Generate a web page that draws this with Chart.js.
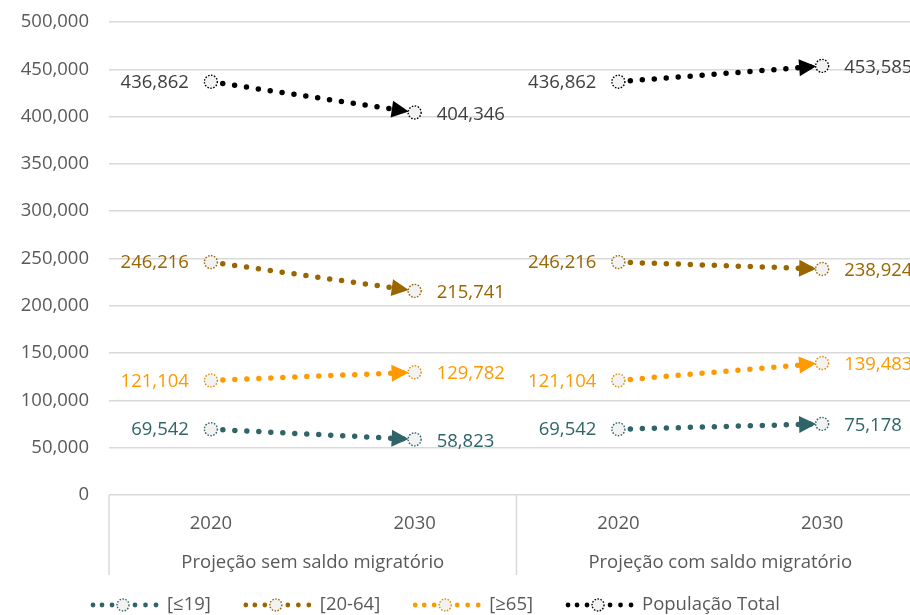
<!DOCTYPE html>
<html>
<head>
<meta charset="utf-8">
<script src="https://cdn.jsdelivr.net/npm/chart.js@4"></script>
<style>
  html, body { margin: 0; padding: 0; background: #fff; overflow: hidden; }
</style>
</head>
<body>
<canvas id="myChart" width="930" height="615"></canvas>
<script>
// Dados
const categorias = ['2020', '2030', '2020', '2030'];
const grupos = ['Projeção sem saldo migratório', 'Projeção com saldo migratório'];
const nomes = ['[≤19]', '[20-64]', '[≥65]', 'População Total'];
const ate19 = [69542, 58823, 69542, 75178];
const de20a64 = [246216, 215741, 246216, 238924];
const mais65 = [121104, 129782, 121104, 139483];
const total = [436862, 404346, 436862, 453585];
const yMin = 0, yMax = 500000, yPasso = 50000;

const cores = ['#2f6468', '#996600', '#ff9900', '#000000'];
const coresRotulo = ['#2f6468', '#996600', '#ff9900', '#404040'];
const fonte = '"Open Sans", sans-serif';
const tam = 18.5;
const fmt = v => v.toLocaleString('en-US');

Chart.defaults.font.family = fonte;
Chart.defaults.font.size = tam;
Chart.defaults.color = '#595959';

const series = [ate19, de20a64, mais65, total];
const datasets = series.map((d, i) => ({
  label: nomes[i],
  data: d,
  borderColor: cores[i],
  borderWidth: 5.5,
  borderDash: [0, 12],
  borderCapStyle: 'round',
  pointRadius: 0,
  pointHoverRadius: 0,
  fill: false,
  tension: 0,
  segment: {
    borderColor: ctx => ctx.p0DataIndex === 1 ? 'rgba(0,0,0,0)' : undefined
  }
}));

function marcador(ctx, x, y, cor, r) {
  ctx.save();
  ctx.beginPath();
  ctx.arc(x, y, r || 6.5, 0, Math.PI * 2);
  ctx.fillStyle = '#f2f2f2';
  ctx.fill();
  ctx.setLineDash([1.5, 1.5]);
  ctx.lineWidth = 1.4;
  ctx.strokeStyle = cor === '#ff9900' ? '#e08a00' : cor;
  ctx.stroke();
  ctx.restore();
}

// Setas, marcadores, rótulos, linhas do eixo e legenda
const extras = {
  id: 'extras',
  afterDatasetsDraw(chart) {
    const ctx = chart.ctx;
    chart.data.datasets.forEach((ds, i) => {
      const pts = chart.getDatasetMeta(i).data;
      for (let s = 0; s < pts.length; s += 2) {
        const a = pts[s], b = pts[s + 1];
        const dx = b.x - a.x, dy = b.y - a.y;
        const len = Math.hypot(dx, dy);
        const ux = dx / len, uy = dy / len;
        const tx = b.x - ux * 6, ty = b.y - uy * 6;
        const bx = tx - ux * 17, by = ty - uy * 17;
        ctx.save();
        ctx.beginPath();
        ctx.moveTo(tx, ty);
        ctx.lineTo(bx - uy * 8.5, by + ux * 8.5);
        ctx.lineTo(bx + uy * 8.5, by - ux * 8.5);
        ctx.closePath();
        ctx.fillStyle = cores[i];
        ctx.fill();
        ctx.restore();
        marcador(ctx, a.x, a.y, cores[i]);
        marcador(ctx, b.x, b.y, cores[i]);
        ctx.save();
        ctx.font = tam + 'px ' + fonte;
        ctx.fillStyle = coresRotulo[i];
        ctx.textBaseline = 'middle';
        ctx.textAlign = 'right';
        ctx.fillText(fmt(ds.data[s]), a.x - 22, a.y + 1);
        ctx.textAlign = 'left';
        ctx.fillText(fmt(ds.data[s + 1]), b.x + 22, b.y + 2);
        ctx.restore();
      }
    });
  },
  afterDraw(chart) {
    const ctx = chart.ctx;
    const x = chart.scales.x;
    const area = chart.chartArea;
    const meio = (x.getPixelForValue(1) + x.getPixelForValue(2)) / 2;
    ctx.save();
    ctx.strokeStyle = '#d9d9d9';
    ctx.lineWidth = 1.5;
    [area.left, meio, area.right].forEach(px => {
      ctx.beginPath();
      ctx.moveTo(px, area.bottom);
      ctx.lineTo(px, area.bottom + 80);
      ctx.stroke();
    });
    ctx.font = tam + 'px ' + fonte;
    ctx.fillStyle = '#595959';
    ctx.textAlign = 'center';
    ctx.textBaseline = 'middle';
    grupos.forEach((g, k) => {
      const cx = (x.getPixelForValue(2 * k) + x.getPixelForValue(2 * k + 1)) / 2;
      ctx.fillText(g, cx, area.bottom + 68);
    });
    // legenda
    let lx = 90;
    const ly = 605;
    ctx.textAlign = 'left';
    nomes.forEach((n, i) => {
      ctx.fillStyle = cores[i];
      [3, 12, 22, 45, 55.5, 66].forEach(o => {
        ctx.beginPath();
        ctx.arc(lx + o, ly, 2.4, 0, Math.PI * 2);
        ctx.fill();
      });
      marcador(ctx, lx + 33, ly, cores[i], 6);
      ctx.fillStyle = '#595959';
      ctx.fillText(n, lx + 77, ly);
      lx += 77 + ctx.measureText(n).width + 32;
    });
    ctx.restore();
  }
};

const config = {
  type: 'line',
  data: { labels: categorias, datasets: datasets },
  options: {
    responsive: false,
    animation: false,
    layout: { padding: { left: 0, right: 6, top: 22, bottom: 40 } },
    plugins: { legend: { display: false }, tooltip: { enabled: false } },
    scales: {
      x: {
        offset: true,
        grid: { display: false },
        border: { display: false },
        ticks: { padding: 10, color: '#595959' },
        afterFit: s => { s.height = 80; s.paddingLeft = 0; s.paddingRight = 0; }
      },
      y: {
        min: yMin,
        max: yMax,
        border: { display: false },
        grid: { color: '#d9d9d9', lineWidth: 1.5, drawTicks: false },
        ticks: { stepSize: yPasso, padding: 20, color: '#595959', callback: v => fmt(v) },
        afterFit: s => { s.width = 109; s.paddingTop = 0; s.paddingBottom = 0; }
      }
    }
  },
  plugins: [extras]
};

const ctx = document.getElementById('myChart').getContext('2d');
new Chart(ctx, config);
</script>
</body>
</html>
